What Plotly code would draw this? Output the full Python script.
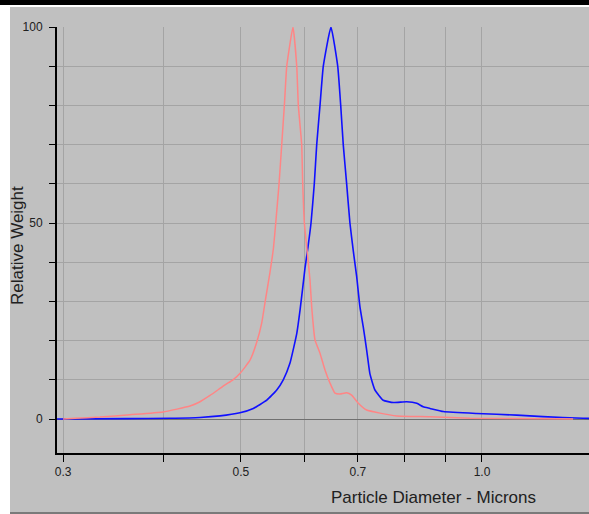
import plotly.graph_objects as go

# Data
red_x = [0.2999, 0.3105, 0.3335, 0.3635, 0.3997, 0.4320, 0.4446, 0.4575, 0.4709, 0.4777,
         0.4888, 0.4986, 0.5133, 0.5232, 0.5309, 0.5360, 0.5437, 0.5490, 0.5527, 0.5580,
         0.5623, 0.5666, 0.5705, 0.5808, 0.5871, 0.5898, 0.5955, 0.5973, 0.6001, 0.6055,
         0.6099, 0.6129, 0.6187, 0.6277, 0.6368, 0.6459, 0.6553, 0.6648, 0.6777, 0.6875,
         0.7002, 0.7178, 0.7459, 0.7826, 0.8612, 0.9660, 1.2993]
red_y = [0.0, 0.2, 0.5, 1.1, 1.8, 3.3, 4.4, 6.0, 7.8, 8.7,
         10.0, 11.6, 15.0, 19.5, 24.5, 29.8, 37.5, 43.5, 50.0, 60.0,
         70.0, 80.0, 90.0, 100.0, 90.0, 80.0, 70.0, 60.0, 50.0, 42.0,
         35.5, 28.6, 20.2, 16.8, 12.5, 9.2, 6.6, 6.4, 6.7, 6.1,
         4.1, 2.3, 1.5, 0.8, 0.6, 0.2, 0.0]

blue_x = [0.2947, 0.3600, 0.4078, 0.4446, 0.4709, 0.4986, 0.5182, 0.5386, 0.5543, 0.5648,
          0.5757, 0.5871, 0.5927, 0.5973, 0.6012, 0.6065, 0.6117, 0.6175, 0.6218, 0.6277,
          0.6337, 0.6478, 0.6605, 0.6662, 0.6711, 0.6777, 0.6841, 0.6906, 0.6975, 0.7041,
          0.7108, 0.7178, 0.7246, 0.7351, 0.7528, 0.7749, 0.8053, 0.8290, 0.8447, 0.8612,
          0.8948, 0.9849, 1.1049, 1.1916, 1.3367, 1.3840]
blue_y = [0.0, 0.1, 0.2, 0.4, 0.8, 1.6, 2.7, 4.8, 7.4, 10.0,
          14.2, 21.8, 27.8, 33.5, 38.5, 44.0, 50.0, 60.0, 70.0, 80.0,
          90.0, 100.0, 90.0, 80.0, 70.0, 60.0, 50.0, 43.0, 36.3, 28.6,
          23.5, 17.6, 11.5, 7.4, 4.8, 4.2, 4.4, 4.0, 3.1, 2.7,
          1.9, 1.4, 1.0, 0.6, 0.2, 0.1]

x_tick_vals = [0.3, 0.4, 0.5, 0.6, 0.7, 0.8, 0.9, 1.0]
x_tick_text = ["0.3", "", "0.5", "", "0.7", "", "", "1.0"]
y_tick_vals = [0, 10, 20, 30, 40, 50, 60, 70, 80, 90, 100]
y_tick_text = ["0", "", "", "", "", "50", "", "", "", "", "100"]

W, H = 589, 514
L, R, T, B = 57, 0, 27, 61
pw, ph = W - L - R, H - T - B

def px(xp):
    return (xp - L) / pw

def py(yp):
    return (H - B - yp) / ph

FONT = "Liberation Sans, Arial, sans-serif"
GRAY = "#c0c0c0"

fig = go.Figure()
fig.add_trace(go.Scatter(x=blue_x, y=blue_y, mode="lines",
                         line=dict(color="#1010ff", width=1.6, shape="spline", smoothing=0.4),
                         showlegend=False, hoverinfo="skip"))
fig.add_trace(go.Scatter(x=red_x, y=red_y, mode="lines",
                         line=dict(color="#ff8585", width=1.5, shape="spline", smoothing=0.4),
                         showlegend=False, hoverinfo="skip"))

fig.update_xaxes(type="log", range=[-0.5306, 0.1336],
                 tickmode="array", tickvals=x_tick_vals, ticktext=x_tick_text,
                 ticks="outside", ticklen=7, tickwidth=1, tickcolor="#000000",
                 showgrid=True, gridcolor="#a4a4a4", gridwidth=1,
                 showline=True, linecolor="#000000", linewidth=2,
                 tickfont=dict(family=FONT, size=12, color="#202020"),
                 zeroline=False)
fig.update_yaxes(range=[-8.67, 100],
                 tickmode="array", tickvals=y_tick_vals, ticktext=y_tick_text,
                 ticks="outside", ticklen=6, tickwidth=1, tickcolor="#000000",
                 showgrid=True, gridcolor="#a4a4a4", gridwidth=1,
                 showline=True, linecolor="#000000", linewidth=2,
                 zeroline=True, zerolinecolor="#707070", zerolinewidth=1,
                 tickfont=dict(family=FONT, size=12, color="#202020"),
                 ticklabelstandoff=4)

shapes = [
    dict(type="rect", xref="paper", yref="paper", x0=px(-5), x1=px(W + 5), y0=py(-5), y1=py(5),
         fillcolor="#000000", line=dict(width=0), layer="above"),
    dict(type="rect", xref="paper", yref="paper", x0=px(-5), x1=px(W + 5), y0=py(5), y1=py(7),
         fillcolor="#ffffff", line=dict(width=0), layer="above"),
    dict(type="rect", xref="paper", yref="paper", x0=px(-5), x1=px(10), y0=py(7), y1=py(H + 5),
         fillcolor="#ffffff", line=dict(width=0), layer="above"),
    dict(type="rect", xref="paper", yref="paper", x0=px(10), x1=px(W + 5), y0=py(512), y1=py(H + 5),
         fillcolor="#7a7a7a", line=dict(width=0), layer="above"),
]

annotations = [
    dict(text="Relative Weight", xref="paper", yref="paper", x=px(17), y=py(246),
         showarrow=False, textangle=-90, xanchor="center", yanchor="middle",
         font=dict(family=FONT, size=17, color="#202020")),
    dict(text="Particle Diameter - Microns", xref="paper", yref="paper", x=px(433), y=py(497),
         showarrow=False, xanchor="center", yanchor="middle",
         font=dict(family=FONT, size=17, color="#202020")),
]

fig.update_layout(width=W, height=H, margin=dict(l=L, r=R, t=T, b=B, pad=0),
                  paper_bgcolor=GRAY, plot_bgcolor=GRAY,
                  shapes=shapes, annotations=annotations, showlegend=False)

fig.write_html("out.html", config={"displayModeBar": False},
               post_script="document.body.style.margin='0';document.body.style.padding='0';"
                           "document.body.style.overflow='hidden';")
